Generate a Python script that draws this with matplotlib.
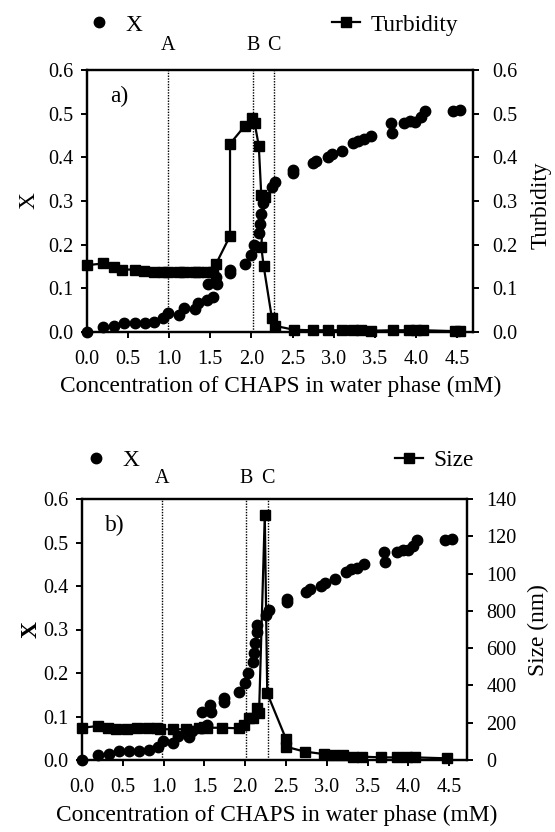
import matplotlib
matplotlib.use("Agg")
import matplotlib.pyplot as plt
from matplotlib.lines import Line2D
from matplotlib.transforms import blended_transform_factory

plt.rcParams['font.family'] = ['Liberation Serif', 'DejaVu Serif']
plt.rcParams['mathtext.fontset'] = 'stix'

# ---- data ----
x_conc = [0.0, 0.20, 0.33, 0.45, 0.58, 0.70, 0.82, 0.93, 0.99, 1.12, 1.18, 1.31, 1.35,
          1.46, 1.53, 1.47, 1.58, 1.57, 1.74, 1.74, 1.92, 2.00, 2.03, 2.09, 2.11, 2.12,
          2.14, 2.15, 2.25, 2.29, 2.51, 2.51, 2.75, 2.79, 2.93, 2.98, 3.10, 3.24, 3.30,
          3.37, 3.45, 3.70, 3.71, 3.86, 3.93, 3.99, 4.06, 4.11, 4.45, 4.54]
x_val = [0.000, 0.012, 0.014, 0.020, 0.020, 0.020, 0.022, 0.031, 0.043, 0.039, 0.056, 0.052, 0.067,
         0.073, 0.081, 0.110, 0.111, 0.127, 0.134, 0.143, 0.156, 0.176, 0.199, 0.226, 0.247, 0.270,
         0.295, 0.310, 0.333, 0.344, 0.371, 0.363, 0.386, 0.392, 0.401, 0.408, 0.415, 0.432, 0.438,
         0.442, 0.450, 0.478, 0.455, 0.478, 0.483, 0.482, 0.493, 0.506, 0.505, 0.508]

turb_conc = [0.0, 0.20, 0.33, 0.43, 0.58, 0.69, 0.82, 0.93, 0.99, 1.12, 1.18, 1.31, 1.35, 1.46,
             1.53, 1.57, 1.74, 1.74, 1.92, 2.01, 2.04, 2.09, 2.12, 2.16, 2.12, 2.15, 2.25, 2.29,
             2.52, 2.75, 2.93, 3.10, 3.24, 3.33, 3.45, 3.72, 3.92, 4.00, 4.09, 4.48, 4.54]
turb_val = [0.153, 0.157, 0.148, 0.143, 0.143, 0.140, 0.138, 0.137, 0.137, 0.138, 0.137, 0.138, 0.138,
            0.137, 0.138, 0.156, 0.220, 0.431, 0.472, 0.491, 0.478, 0.426, 0.314, 0.310, 0.195, 0.150,
            0.031, 0.014, 0.005, 0.004, 0.004, 0.004, 0.004, 0.004, 0.003, 0.004, 0.004, 0.004, 0.004,
            0.002, 0.002]

size_conc = [0.0, 0.19, 0.32, 0.42, 0.55, 0.67, 0.81, 0.92, 0.96, 1.12, 1.28, 1.43, 1.50, 1.53,
             1.72, 1.92, 1.99, 2.05, 2.10, 2.14, 2.17, 2.24, 2.27, 2.50, 2.50, 2.73, 2.96, 3.08,
             3.20, 3.32, 3.43, 3.67, 3.86, 3.98, 4.08, 4.47]
size_val = [173, 182, 173, 165, 165, 173, 170, 173, 165, 165, 165, 170, 179, 173,
            173, 170, 188, 223, 225, 277, 254, 1314, 358, 113, 71, 45, 32, 27,
            27, 18, 18, 14, 14, 14, 14, 9]

x_ticks = [0.0, 0.5, 1.0, 1.5, 2.0, 2.5, 3.0, 3.5, 4.0, 4.5]
x_tick_labels = ['0.0', '0.5', '1.0', '1.5', '2.0', '2.5', '3.0', '3.5', '4.0', '4.5']
y_ticks = [0.0, 0.1, 0.2, 0.3, 0.4, 0.5, 0.6]
y_tick_labels = ['0.0', '0.1', '0.2', '0.3', '0.4', '0.5', '0.6']
size_ticks = [0, 200, 400, 600, 800, 1000, 1200, 1400]
size_tick_labels = ['0', '200', '400', '600', '800', '100', '120', '140']

markers_top = {'A': 0.99, 'B': 2.02, 'C': 2.27}
markers_bot = {'A': 0.98, 'B': 2.01, 'C': 2.28}

xlabel = 'Concentration of CHAPS in water phase (mM)'

W, H = 555, 832
fig = plt.figure(figsize=(W / 100, H / 100), dpi=100)

TICK_FS = 14.5
LAB_FS = 16.8
MS = 7.5


def style(ax, ax2, xmax):
    ax.set_xlim(0, xmax)
    ax.set_ylim(0, 0.6)
    ax.set_xticks(x_ticks)
    ax.set_xticklabels(x_tick_labels)
    ax.set_yticks(y_ticks)
    ax.set_yticklabels(y_tick_labels)
    for a in (ax, ax2):
        for s in a.spines.values():
            s.set_linewidth(1.6)
        a.tick_params(direction='out', length=4, width=1.4, labelsize=TICK_FS)
    ax.tick_params(axis='x', pad=9)
    ax.tick_params(axis='y', pad=6)
    ax2.tick_params(axis='y', pad=10)


def draw_vlines(ax, marks, off):
    tr = blended_transform_factory(ax.transData, ax.transAxes)
    for lab, xv in marks.items():
        ax.axvline(xv, color='black', linestyle=(0, (1, 1)), linewidth=1.0, zorder=1)
        ax.annotate(lab, xy=(xv, 1.0), xycoords=tr, xytext=(0, off), textcoords='offset points',
                    ha='center', va='bottom', fontsize=TICK_FS)


# ---- top panel ----
axA = fig.add_axes([87 / W, 1 - 332 / H, (473 - 87) / W, (332 - 70) / H])
axA2 = axA.twinx()
style(axA, axA2, (473 - 87) / 82.2)
axA2.set_ylim(0, 0.6)
axA2.set_yticks(y_ticks)
axA2.set_yticklabels(y_tick_labels)
draw_vlines(axA, markers_top, 11)
axA.plot(x_conc, x_val, linestyle='none', marker='o', markersize=MS, color='black', clip_on=False, zorder=3)
axA2.plot(turb_conc, turb_val, linestyle='-', linewidth=1.6, marker='s', markersize=MS, color='black',
          clip_on=False, zorder=3)
axA.text(0.06, 0.9, 'a)', transform=axA.transAxes, fontsize=LAB_FS, ha='left', va='center')
fig.text(0.5 * (59 + 502) / W, 1 - 386 / H, xlabel, ha='center', va='center', fontsize=LAB_FS)
fig.text(29 / W, 1 - 201 / H, 'X', rotation=90, ha='center', va='center', fontsize=LAB_FS)
fig.text(541 / W, 1 - 205 / H, 'Turbidity', rotation=90, ha='center', va='center', fontsize=LAB_FS)

h_x = Line2D([], [], linestyle='none', marker='o', markersize=MS, color='black')
h_t = Line2D([], [], linestyle='-', linewidth=1.6, marker='s', markersize=MS, color='black')
fig.legend(handles=[h_x], labels=['X'], loc='center left', bbox_to_anchor=(76 / W, 1 - 25 / H),
           frameon=False, fontsize=LAB_FS, handlelength=1.2, handletextpad=0.5, borderaxespad=0)
fig.legend(handles=[h_t], labels=['Turbidity'], loc='center left', bbox_to_anchor=(323 / W, 1 - 25 / H),
           frameon=False, fontsize=LAB_FS, handlelength=1.2, handletextpad=0.45, borderaxespad=0)

# ---- bottom panel ----
axB = fig.add_axes([82 / W, 1 - 760 / H, (467 - 82) / W, (760 - 499) / H])
axB2 = axB.twinx()
style(axB, axB2, (467 - 82) / 81.6)
axB2.set_ylim(0, 1400)
axB2.set_yticks(size_ticks)
axB2.set_yticklabels(size_tick_labels)
draw_vlines(axB, markers_bot, 8)
axB.plot(x_conc, x_val, linestyle='none', marker='o', markersize=MS, color='black', clip_on=False, zorder=3)
axB2.plot(size_conc, size_val, linestyle='-', linewidth=1.6, marker='s', markersize=MS, color='black',
          clip_on=False, zorder=3)
axB.text(0.06, 0.9, 'b)', transform=axB.transAxes, fontsize=LAB_FS, ha='left', va='center')
fig.text(0.5 * (56 + 497) / W, 1 - 815 / H, xlabel, ha='center', va='center', fontsize=LAB_FS)
fig.text(31 / W, 1 - 630 / H, 'X', rotation=90, ha='center', va='center', fontsize=LAB_FS, fontweight='bold')
fig.text(538 / W, 1 - 630 / H, 'Size (nm)', rotation=90, ha='center', va='center', fontsize=LAB_FS)

h_s = Line2D([], [], linestyle='-', linewidth=1.6, marker='s', markersize=MS, color='black')
fig.legend(handles=[h_x], labels=['X'], loc='center left', bbox_to_anchor=(73 / W, 1 - 460 / H),
           frameon=False, fontsize=LAB_FS, handlelength=1.2, handletextpad=0.5, borderaxespad=0)
fig.legend(handles=[h_s], labels=['Size'], loc='center left', bbox_to_anchor=(386 / W, 1 - 460 / H),
           frameon=False, fontsize=LAB_FS, handlelength=1.2, handletextpad=0.45, borderaxespad=0)

fig.savefig('out.png', dpi=100)
